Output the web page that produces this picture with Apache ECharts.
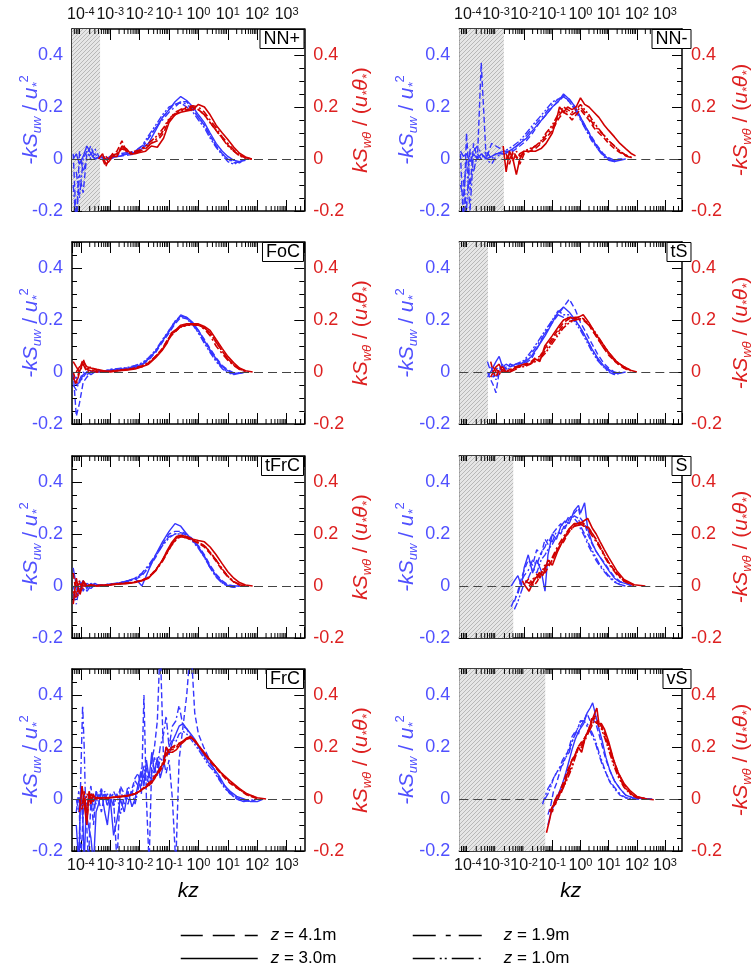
<!DOCTYPE html>
<html><head><meta charset="utf-8">
<script src="https://cdn.jsdelivr.net/npm/echarts@6/dist/echarts.min.js"></script>
<style>html,body{margin:0;padding:0;background:#fff}#c{width:755px;height:965px}</style>
</head><body><div id="c"></div>
<script>
// ---------------- DATA ----------------
// shared kz grids
const KZ_A = [5.5e-5, 7e-5, 9e-5, 1.2e-4, 1.6e-4, 2.2e-4, 3e-4, 4.5e-4, 7e-4, 1e-3, 2e-3, 4e-3, 7e-3, 1.2e-2, 2e-2, 3.5e-2, 6e-2, 0.1, 0.16, 0.25, 0.4, 0.65, 1, 1.6, 2.5, 4, 6.5, 10, 16, 25, 40, 65];
const KZ_B = [5.5e-5, 7e-5, 9e-5, 1.2e-4, 1.6e-4, 2.2e-4, 3.5e-4, 6e-4, 1e-3, 2e-3, 4e-3, 7e-3, 1.2e-2, 2e-2, 3.5e-2, 6e-2, 8.5e-2, 0.12, 0.18, 0.25, 0.4, 0.65, 1, 1.6, 2.5, 4, 6.5, 10, 16, 25, 40, 70];

// NN+
const NNp_uw_41 = [0.02, -0.25, -0.06, -0.13, 0.02, 0.05, 0.0, 0.01, 0.0, 0.01, 0.01, 0.015, 0.02, 0.04, 0.08, 0.12, 0.16, 0.19, 0.21, 0.22, 0.22, 0.19, 0.16, 0.13, 0.09, 0.05, 0.02, 0.0, -0.015, -0.01, 0.0, null];
const NNp_uw_30 = [0.0, 0.02, -0.02, 0.01, 0.05, 0.02, 0.0, 0.01, 0.0, 0.005, 0.01, 0.02, 0.025, 0.04, 0.06, 0.11, 0.16, 0.19, 0.22, 0.24, 0.225, 0.2, 0.17, 0.14, 0.1, 0.06, 0.03, 0.01, -0.005, -0.01, -0.005, null];
const NNp_uw_19 = [-0.1, -0.25, 0.03, -0.05, 0.0, 0.02, 0.04, 0.0, 0.01, 0.0, 0.015, 0.02, 0.03, 0.05, 0.08, 0.12, 0.15, 0.18, 0.2, 0.22, 0.21, 0.19, 0.16, 0.13, 0.09, 0.05, 0.02, 0.0, -0.01, -0.015, 0.0, null];
const NNp_uw_10 = [null, -0.05, -0.15, 0.0, 0.03, 0.0, 0.02, 0.0, 0.0, 0.01, 0.02, 0.025, 0.03, 0.05, 0.09, 0.13, 0.17, 0.2, 0.21, 0.215, 0.2, 0.18, 0.15, 0.12, 0.08, 0.045, 0.015, -0.01, -0.02, -0.01, 0.0, null];
const NNp_wt_kz = [4e-4, 5.5e-4, 7e-4, 9e-4, 1.2e-3, 1.7e-3, 2.5e-3, 3.5e-3, 5e-3, 7e-3, 1e-2, 1.6e-2, 2.5e-2, 4e-2, 6.5e-2, 0.1, 0.16, 0.25, 0.4, 0.65, 1, 1.6, 2.5, 4, 6.5, 10, 16, 25, 40, 65, 100];
const NNp_wt_41 = [null, 0.0, -0.03, 0.0, 0.02, 0.03, 0.07, 0.03, 0.02, 0.02, 0.03, 0.04, 0.06, 0.07, 0.1, 0.15, 0.17, 0.19, 0.195, 0.2, 0.19, 0.17, 0.14, 0.11, 0.08, 0.055, 0.03, 0.015, 0.005, 0.0, null];
const NNp_wt_30 = [0.0, 0.02, -0.02, -0.01, 0.01, 0.01, 0.05, 0.04, 0.02, 0.02, 0.025, 0.03, 0.05, 0.045, 0.08, 0.14, 0.17, 0.18, 0.185, 0.19, 0.21, 0.2, 0.17, 0.13, 0.1, 0.075, 0.045, 0.022, 0.008, 0.0, null];
const NNp_wt_19 = [null, 0.01, 0.0, -0.01, 0.015, 0.02, 0.05, 0.03, 0.02, 0.025, 0.03, 0.045, 0.06, 0.08, 0.11, 0.15, 0.18, 0.19, 0.2, 0.205, 0.2, 0.18, 0.15, 0.12, 0.085, 0.06, 0.035, 0.015, 0.005, 0.0, null];
const NNp_wt_10 = [null, null, 0.01, 0.0, 0.01, 0.02, 0.04, 0.03, 0.025, 0.03, 0.035, 0.05, 0.07, 0.09, 0.12, 0.155, 0.175, 0.185, 0.19, 0.195, 0.19, 0.17, 0.14, 0.11, 0.08, 0.05, 0.03, 0.012, 0.004, 0.0, null];

// NN-
const NNm_uw_41 = [0.02, -0.25, 0.1, -0.12, 0.06, 0.0, 0.37, 0.0, 0.06, 0.05, 0.03, 0.03, 0.05, 0.07, 0.1, 0.14, 0.17, 0.2, 0.22, 0.24, 0.23, 0.2, 0.16, 0.12, 0.085, 0.05, 0.02, 0.005, -0.005, 0.0, 0.0, null];
const NNm_uw_30 = [0.03, 0.01, 0.02, -0.01, 0.02, 0.0, 0.02, 0.0, 0.01, 0.02, 0.02, 0.04, 0.06, 0.08, 0.11, 0.14, 0.17, 0.2, 0.22, 0.25, 0.23, 0.2, 0.16, 0.12, 0.08, 0.045, 0.015, 0.0, -0.01, -0.005, 0.0, null];
const NNm_uw_19 = [-0.1, -0.15, 0.0, -0.2, 0.03, 0.05, 0.02, 0.0, -0.02, 0.01, 0.02, 0.035, 0.06, 0.09, 0.12, 0.15, 0.18, 0.21, 0.23, 0.245, 0.22, 0.19, 0.15, 0.11, 0.07, 0.04, 0.01, -0.005, -0.01, 0.0, null, null];
const NNm_uw_10 = [null, -0.08, -0.2, 0.04, -0.05, 0.02, 0.0, 0.03, 0.0, 0.02, 0.03, 0.05, 0.07, 0.1, 0.13, 0.16, 0.19, 0.22, 0.23, 0.24, 0.22, 0.19, 0.155, 0.11, 0.075, 0.04, 0.015, 0.0, -0.005, 0.0, null, null];
const NNm_wt_kz = [1.8e-3, 2.3e-3, 3e-3, 4e-3, 5.3e-3, 7e-3, 1e-2, 1.6e-2, 2.5e-2, 4e-2, 6e-2, 0.1, 0.14, 0.18, 0.25, 0.35, 0.5, 0.7, 1, 1.4, 2, 3, 4.5, 7, 10, 16, 25, 40, 65, 90];
const NNm_wt_41 = [null, 0.02, -0.02, 0.03, 0.01, -0.02, 0.02, 0.03, 0.04, 0.06, 0.08, 0.11, 0.14, 0.16, 0.18, 0.17, 0.15, 0.17, 0.19, 0.17, 0.15, 0.12, 0.1, 0.08, 0.06, 0.04, 0.025, 0.012, 0.005, null];
const NNm_wt_30 = [0.05, -0.05, 0.03, 0.0, -0.06, 0.0, 0.03, 0.03, 0.03, 0.04, 0.06, 0.1, 0.15, 0.2, 0.18, 0.2, 0.19, 0.2, 0.235, 0.21, 0.2, 0.18, 0.16, 0.13, 0.11, 0.085, 0.06, 0.04, 0.02, 0.012];
const NNm_wt_19 = [null, 0.0, 0.02, -0.01, 0.03, 0.01, 0.025, 0.035, 0.05, 0.065, 0.09, 0.12, 0.15, 0.17, 0.19, 0.18, 0.17, 0.18, 0.2, 0.18, 0.16, 0.13, 0.11, 0.09, 0.07, 0.05, 0.03, 0.015, 0.006, null];
const NNm_wt_10 = [null, null, 0.0, 0.02, 0.0, 0.02, 0.03, 0.04, 0.05, 0.07, 0.1, 0.13, 0.16, 0.18, 0.2, 0.19, 0.18, 0.19, 0.21, 0.19, 0.17, 0.14, 0.115, 0.09, 0.07, 0.05, 0.03, 0.015, 0.005, null];

// FoC
const FoC_uw_41 = [0.0, -0.17, -0.12, -0.04, -0.02, 0.0, 0.0, 0.005, 0.005, 0.005, 0.01, 0.012, 0.018, 0.028, 0.045, 0.075, 0.115, 0.15, 0.185, 0.21, 0.205, 0.185, 0.16, 0.125, 0.09, 0.055, 0.025, 0.008, -0.003, -0.005, 0.0, null];
const FoC_uw_30 = [-0.02, -0.05, -0.04, -0.01, 0.0, -0.01, 0.0, 0.0, 0.005, 0.008, 0.01, 0.015, 0.02, 0.03, 0.05, 0.08, 0.12, 0.155, 0.19, 0.22, 0.21, 0.19, 0.16, 0.12, 0.085, 0.05, 0.02, 0.005, -0.005, -0.005, 0.0, null];
const FoC_uw_19 = [-0.05, -0.07, -0.03, 0.0, -0.01, 0.0, 0.005, 0.0, 0.005, 0.01, 0.012, 0.016, 0.022, 0.032, 0.05, 0.08, 0.12, 0.16, 0.195, 0.215, 0.21, 0.185, 0.15, 0.115, 0.08, 0.045, 0.015, 0.0, -0.008, -0.003, null, null];
const FoC_uw_10 = [-0.03, -0.02, -0.04, -0.02, 0.0, 0.0, 0.0, 0.005, 0.005, 0.01, 0.014, 0.018, 0.025, 0.035, 0.055, 0.085, 0.125, 0.16, 0.195, 0.215, 0.205, 0.18, 0.15, 0.11, 0.075, 0.04, 0.012, -0.003, -0.01, -0.005, null, null];
const FoC_wt_41 = [0.0, -0.04, 0.01, 0.05, 0.01, 0.02, 0.005, 0.0, 0.002, 0.006, 0.01, 0.015, 0.022, 0.035, 0.06, 0.09, 0.12, 0.145, 0.16, 0.175, 0.18, 0.185, 0.18, 0.17, 0.15, 0.115, 0.08, 0.05, 0.028, 0.012, 0.004, null];
const FoC_wt_30 = [0.04, 0.02, 0.0, 0.04, 0.02, 0.015, 0.01, 0.005, 0.0, 0.005, 0.008, 0.012, 0.02, 0.03, 0.055, 0.085, 0.11, 0.15, 0.165, 0.18, 0.185, 0.185, 0.185, 0.175, 0.16, 0.125, 0.09, 0.06, 0.035, 0.015, 0.005, 0.0];
const FoC_wt_19 = [-0.02, -0.05, 0.0, 0.03, 0.0, 0.01, 0.0, 0.0, 0.003, 0.006, 0.01, 0.014, 0.02, 0.032, 0.058, 0.088, 0.115, 0.14, 0.16, 0.175, 0.18, 0.18, 0.18, 0.165, 0.14, 0.1, 0.07, 0.045, 0.025, 0.01, 0.003, null];
const FoC_wt_10 = [null, 0.0, 0.02, 0.03, 0.01, 0.005, 0.0, 0.002, 0.004, 0.007, 0.011, 0.016, 0.024, 0.036, 0.06, 0.09, 0.12, 0.145, 0.16, 0.172, 0.18, 0.183, 0.18, 0.17, 0.15, 0.115, 0.08, 0.05, 0.027, 0.011, 0.003, null];

// tS
const tS_uw_kz = [5e-4, 6.5e-4, 8e-4, 1e-3, 1.3e-3, 1.7e-3, 2.3e-3, 3.2e-3, 5e-3, 1e-2, 1.8e-2, 3.2e-2, 5.6e-2, 0.1, 0.16, 0.25, 0.4, 0.65, 1, 1.6, 2.5, 4, 6.5, 10, 16, 25, 40];
const tS_uw_41 = [0.0, -0.03, -0.05, -0.08, 0.0, 0.03, 0.01, 0.03, 0.02, 0.03, 0.05, 0.1, 0.15, 0.19, 0.22, 0.25, 0.28, 0.24, 0.19, 0.15, 0.11, 0.07, 0.035, 0.015, 0.0, -0.005, null];
const tS_uw_30 = [-0.02, 0.0, 0.02, 0.04, 0.06, 0.02, 0.03, 0.02, 0.03, 0.035, 0.06, 0.1, 0.14, 0.19, 0.23, 0.25, 0.23, 0.2, 0.17, 0.13, 0.09, 0.055, 0.025, 0.01, -0.005, -0.005, 0.0];
const tS_uw_19 = [0.04, 0.0, -0.02, 0.01, 0.02, 0.0, 0.02, 0.03, 0.02, 0.04, 0.07, 0.11, 0.15, 0.2, 0.22, 0.21, 0.21, 0.2, 0.17, 0.13, 0.09, 0.05, 0.02, 0.005, -0.01, 0.0, null];
const tS_uw_10 = [null, 0.02, 0.0, -0.03, 0.01, 0.03, 0.0, 0.02, 0.03, 0.045, 0.08, 0.12, 0.16, 0.2, 0.235, 0.22, 0.22, 0.19, 0.16, 0.12, 0.08, 0.045, 0.02, 0.0, -0.01, -0.005, null];
const tS_wt_kz = [6.5e-4, 8e-4, 1e-3, 1.3e-3, 1.7e-3, 2.3e-3, 3.2e-3, 5e-3, 7e-3, 1e-2, 1.6e-2, 2.5e-2, 3.6e-2, 5.4e-2, 0.1, 0.18, 0.25, 0.4, 0.65, 1, 1.25, 2, 3.5, 6, 10, 19, 35, 60, 100];
const tS_wt_41 = [0.04, 0.0, -0.02, 0.01, 0.02, 0.0, 0.01, 0.02, 0.02, 0.03, 0.035, 0.055, 0.06, 0.09, 0.13, 0.17, 0.19, 0.205, 0.21, 0.21, 0.205, 0.18, 0.14, 0.1, 0.065, 0.035, 0.015, 0.005, null];
const tS_wt_30 = [-0.02, 0.0, 0.02, 0.03, 0.0, 0.0, 0.0, 0.02, 0.025, 0.03, 0.03, 0.05, 0.04, 0.1, 0.14, 0.18, 0.2, 0.21, 0.205, 0.215, 0.22, 0.19, 0.145, 0.11, 0.075, 0.04, 0.02, 0.007, 0.0];
const tS_wt_19 = [null, 0.02, 0.0, -0.01, 0.01, 0.0, 0.005, 0.015, 0.02, 0.025, 0.03, 0.045, 0.05, 0.08, 0.12, 0.16, 0.18, 0.195, 0.2, 0.2, 0.2, 0.18, 0.14, 0.1, 0.07, 0.035, 0.015, 0.004, null];
const tS_wt_10 = [null, null, 0.01, 0.0, 0.0, 0.01, 0.0, 0.01, 0.02, 0.02, 0.03, 0.04, 0.05, 0.07, 0.11, 0.15, 0.17, 0.19, 0.2, 0.205, 0.205, 0.185, 0.15, 0.11, 0.075, 0.04, 0.02, 0.006, null];

// tFrC
const tFrC_uw_41 = [-0.05, -0.02, 0.02, -0.02, 0.01, 0.0, 0.01, 0.0, 0.005, 0.005, 0.01, 0.02, 0.025, 0.04, 0.07, 0.11, 0.16, 0.2, 0.21, 0.21, 0.2, 0.18, 0.155, 0.12, 0.08, 0.045, 0.02, 0.005, 0.0, 0.0, null, null];
const tFrC_uw_30 = [0.07, 0.0, -0.03, 0.02, -0.01, 0.01, 0.0, 0.005, 0.0, 0.005, 0.012, 0.02, 0.03, 0.0, 0.06, 0.12, 0.17, 0.21, 0.24, 0.23, 0.2, 0.175, 0.15, 0.115, 0.075, 0.04, 0.015, 0.002, 0.0, 0.0, null, null];
const tFrC_uw_19 = [-0.03, -0.07, 0.0, 0.02, -0.02, 0.0, 0.01, 0.0, 0.005, 0.008, 0.012, 0.02, 0.03, 0.05, 0.08, 0.12, 0.16, 0.19, 0.2, 0.205, 0.195, 0.175, 0.15, 0.11, 0.07, 0.035, 0.01, 0.0, -0.005, 0.0, null, null];
const tFrC_uw_10 = [0.0, -0.04, -0.01, 0.0, 0.01, -0.01, 0.005, 0.0, 0.005, 0.008, 0.01, 0.018, 0.028, 0.045, 0.075, 0.115, 0.155, 0.185, 0.2, 0.2, 0.19, 0.17, 0.145, 0.11, 0.07, 0.035, 0.012, 0.0, -0.005, 0.0, null, null];
const tFrC_wt_41 = [0.05, -0.03, -0.04, 0.01, 0.005, 0.0, 0.002, 0.004, 0.006, 0.009, 0.012, 0.016, 0.022, 0.033, 0.062, 0.1, 0.13, 0.16, 0.185, 0.19, 0.185, 0.175, 0.165, 0.15, 0.125, 0.095, 0.06, 0.035, 0.015, 0.005, 0.0, null];
const tFrC_wt_30 = [-0.07, 0.03, -0.03, 0.02, 0.0, 0.005, 0.0, 0.003, 0.005, 0.008, 0.01, 0.014, 0.02, 0.03, 0.06, 0.1, 0.135, 0.165, 0.19, 0.195, 0.19, 0.18, 0.175, 0.17, 0.15, 0.12, 0.085, 0.055, 0.03, 0.013, 0.004, 0.0];
const tFrC_wt_19 = [-0.02, -0.05, 0.02, 0.0, 0.0, 0.005, 0.0, 0.004, 0.005, 0.008, 0.011, 0.015, 0.021, 0.032, 0.058, 0.095, 0.125, 0.155, 0.18, 0.19, 0.185, 0.175, 0.165, 0.155, 0.13, 0.1, 0.065, 0.038, 0.017, 0.006, 0.001, null];
const tFrC_wt_10 = [null, 0.0, 0.01, -0.01, 0.005, 0.0, 0.002, 0.003, 0.005, 0.008, 0.011, 0.015, 0.022, 0.034, 0.06, 0.098, 0.128, 0.158, 0.182, 0.192, 0.188, 0.178, 0.168, 0.155, 0.13, 0.1, 0.065, 0.037, 0.016, 0.005, 0.0, null];

// S
const S_uw_kz = [3.5e-3, 4.5e-3, 6e-3, 8e-3, 1e-2, 1.4e-2, 2e-2, 2.8e-2, 4e-2, 5.5e-2, 7e-2, 0.1, 0.14, 0.2, 0.28, 0.4, 0.6, 0.85, 1, 1.4, 1.8, 2.5, 3.5, 5, 7, 10, 16, 25, 40, 65, 100];
const S_uw_41 = [null, -0.06, -0.02, 0.03, 0.06, 0.1, 0.08, 0.14, 0.12, 0.18, 0.16, 0.2, 0.22, 0.24, 0.22, 0.26, 0.28, 0.3, 0.26, 0.24, 0.2, 0.165, 0.135, 0.11, 0.09, 0.065, 0.035, 0.018, 0.01, 0.005, null];
const S_uw_30 = [0.0, 0.02, 0.04, 0.0, 0.07, 0.12, 0.05, 0.1, 0.06, -0.02, 0.12, 0.2, 0.18, 0.23, 0.25, 0.24, 0.29, 0.31, 0.28, 0.32, 0.22, 0.17, 0.135, 0.11, 0.085, 0.06, 0.03, 0.015, 0.01, 0.0, null];
const S_uw_19 = [-0.08, -0.05, -0.03, 0.02, 0.04, 0.06, 0.1, 0.08, 0.13, 0.15, 0.18, 0.17, 0.21, 0.2, 0.24, 0.27, 0.26, 0.24, 0.22, 0.19, 0.16, 0.13, 0.1, 0.075, 0.055, 0.035, 0.015, 0.005, 0.0, null, null];
const S_uw_10 = [null, -0.09, -0.06, -0.02, 0.01, 0.03, 0.07, 0.05, 0.1, 0.12, 0.14, 0.16, 0.19, 0.21, 0.23, 0.25, 0.27, 0.26, 0.23, 0.2, 0.17, 0.14, 0.11, 0.08, 0.06, 0.04, 0.018, 0.006, 0.0, null, null];
const S_wt_kz = [8.7e-3, 1.1e-2, 1.5e-2, 2.2e-2, 3e-2, 3.6e-2, 4.5e-2, 5.4e-2, 7e-2, 0.1, 0.15, 0.25, 0.4, 0.6, 0.95, 1.3, 1.8, 2.7, 3.6, 5, 7, 10, 19, 35, 80, 200];
const S_wt_41 = [null, 0.01, 0.03, 0.0, 0.02, 0.04, 0.06, 0.05, 0.07, 0.1, 0.14, 0.17, 0.21, 0.23, 0.24, 0.23, 0.23, 0.2, 0.18, 0.15, 0.12, 0.09, 0.05, 0.02, 0.003, null];
const S_wt_30 = [0.02, 0.0, -0.02, 0.02, 0.04, 0.05, 0.04, 0.06, 0.1, 0.08, 0.13, 0.18, 0.22, 0.24, 0.24, 0.25, 0.26, 0.22, 0.2, 0.17, 0.14, 0.11, 0.06, 0.025, 0.005, 0.0];
const S_wt_19 = [null, 0.02, 0.01, 0.03, 0.03, 0.06, 0.05, 0.07, 0.09, 0.11, 0.15, 0.19, 0.22, 0.235, 0.245, 0.24, 0.22, 0.19, 0.17, 0.145, 0.115, 0.085, 0.045, 0.018, 0.002, null];
const S_wt_10 = [null, null, 0.0, 0.02, 0.05, 0.03, 0.06, 0.08, 0.08, 0.1, 0.14, 0.18, 0.21, 0.23, 0.235, 0.235, 0.225, 0.2, 0.175, 0.15, 0.12, 0.09, 0.05, 0.02, 0.004, null];

// FrC
const FrC_uw_kz = [7e-5, 8.5e-5, 1e-4, 1.15e-4, 1.3e-4, 1.5e-4, 1.8e-4, 2.2e-4, 2.7e-4, 3.3e-4, 4e-4, 5e-4, 6.5e-4, 8e-4, 1e-3, 1.3e-3, 1.7e-3, 2.2e-3, 3e-3, 4e-3, 5.5e-3, 7e-3, 9e-3, 1.15e-2, 1.4e-2, 1.7e-2, 2.1e-2, 2.6e-2, 3.2e-2, 4e-2, 5e-2, 6.5e-2, 8e-2, 0.1, 0.13, 0.17, 0.22, 0.3, 0.4, 0.55, 0.75, 1, 1.5, 2.2, 3.2, 5, 8, 12, 20, 35, 60, 100, 160];
const FrC_uw_41 = [-0.05, 0.03, -0.25, -0.1, 0.02, -0.03, -0.25, 0.0, -0.1, 0.03, 0.0, -0.05, 0.02, -0.03, 0.02, 0.0, -0.25, 0.05, 0.02, -0.02, 0.04, 0.08, 0.1, 0.02, 0.4, 0.0, -0.25, 0.15, 0.2, 0.3, 0.6, 0.15, 0.1, 0.15, 0.0, -0.25, 0.15, 0.28, 0.4, 0.6, 0.33, 0.25, 0.2, 0.16, 0.12, 0.08, 0.05, 0.025, 0.005, -0.005, -0.01, 0.0, null];
const FrC_uw_30 = [-0.1, -0.25, 0.05, -0.05, -0.25, -0.05, -0.1, -0.15, -0.25, -0.05, -0.02, 0.03, -0.05, -0.1, 0.0, -0.14, -0.08, 0.0, -0.05, 0.03, -0.03, 0.0, 0.06, 0.1, 0.05, 0.15, 0.08, 0.18, 0.1, 0.16, 0.08, 0.13, 0.2, 0.17, 0.22, 0.25, 0.28, 0.29, 0.27, 0.25, 0.23, 0.2, 0.17, 0.14, 0.12, 0.09, 0.05, 0.03, 0.01, 0.0, -0.01, -0.01, 0.0];
const FrC_uw_19 = [null, -0.25, 0.1, 0.36, 0.2, -0.1, 0.0, 0.05, -0.05, 0.03, 0.01, 0.04, 0.0, 0.02, -0.02, 0.03, 0.0, 0.04, -0.02, 0.05, 0.02, 0.07, 0.05, 0.12, 0.08, 0.12, 0.05, 0.1, 0.16, 0.12, 0.2, 0.25, 0.32, 0.2, 0.28, 0.3, 0.36, 0.28, 0.27, 0.24, 0.22, 0.2, 0.18, 0.15, 0.12, 0.08, 0.045, 0.02, 0.0, -0.01, 0.0, null, null];
const FrC_uw_10 = [0.0, -0.05, 0.03, -0.08, 0.0, -0.03, 0.02, -0.04, 0.01, -0.02, 0.02, 0.0, 0.03, -0.01, 0.01, -0.03, 0.02, -0.06, 0.01, 0.0, 0.03, -0.02, 0.04, 0.08, 0.13, 0.05, 0.1, 0.06, 0.12, 0.09, 0.16, 0.14, 0.18, 0.2, 0.23, 0.22, 0.25, 0.26, 0.25, 0.23, 0.21, 0.19, 0.16, 0.13, 0.11, 0.075, 0.04, 0.02, 0.0, -0.01, -0.005, 0.0, null];
const FrC_wt_kz = [9e-5, 1.1e-4, 1.3e-4, 1.6e-4, 1.9e-4, 2.2e-4, 2.6e-4, 3.2e-4, 4.5e-4, 1e-3, 2e-3, 4e-3, 7e-3, 1e-2, 1.6e-2, 2.5e-2, 3.3e-2, 4.5e-2, 6.5e-2, 8e-2, 0.1, 0.13, 0.18, 0.28, 0.4, 0.55, 0.78, 1.1, 1.8, 3.5, 6, 12, 25, 45, 100, 200];
const FrC_wt_41 = [0.0, -0.04, 0.03, -0.08, 0.0, 0.02, -0.01, 0.01, 0.0, 0.005, 0.01, 0.014, 0.02, 0.03, 0.05, 0.07, 0.09, 0.1, 0.13, 0.16, 0.19, 0.2, 0.21, 0.22, 0.23, 0.235, 0.225, 0.2, 0.165, 0.125, 0.095, 0.06, 0.035, 0.015, 0.002, null];
const FrC_wt_30 = [-0.05, 0.05, -0.02, -0.1, 0.03, -0.02, 0.02, 0.0, 0.005, 0.005, 0.008, 0.012, 0.02, 0.03, 0.045, 0.06, 0.08, 0.11, 0.14, 0.2, 0.18, 0.18, 0.19, 0.22, 0.235, 0.24, 0.22, 0.2, 0.17, 0.13, 0.1, 0.07, 0.04, 0.02, 0.005, 0.0];
const FrC_wt_19 = [null, -0.02, 0.01, -0.05, 0.02, 0.0, 0.01, 0.0, 0.004, 0.006, 0.009, 0.013, 0.02, 0.028, 0.045, 0.065, 0.085, 0.105, 0.14, 0.17, 0.19, 0.19, 0.2, 0.215, 0.23, 0.24, 0.22, 0.2, 0.165, 0.13, 0.1, 0.065, 0.038, 0.018, 0.004, null];
const FrC_wt_10 = [null, null, -0.03, 0.02, 0.0, -0.01, 0.01, 0.005, 0.005, 0.006, 0.009, 0.013, 0.02, 0.03, 0.047, 0.066, 0.088, 0.11, 0.145, 0.175, 0.185, 0.195, 0.205, 0.22, 0.232, 0.238, 0.222, 0.2, 0.168, 0.13, 0.1, 0.066, 0.037, 0.016, 0.003, null];

// vS
const vS_uw_kz = [4.5e-2, 5.5e-2, 7e-2, 9e-2, 0.11, 0.14, 0.18, 0.23, 0.3, 0.4, 0.5, 0.65, 0.85, 1, 1.3, 1.7, 2.2, 2.7, 3.5, 4.5, 6, 8, 11, 16, 25, 40, 70, 120, 200, 350];
const vS_uw_41 = [null, null, -0.06, -0.02, 0.03, 0.06, 0.1, 0.14, 0.16, 0.2, 0.24, 0.26, 0.25, 0.28, 0.3, 0.33, 0.3, 0.31, 0.29, 0.25, 0.2, 0.15, 0.11, 0.07, 0.04, 0.015, 0.005, 0.003, 0.0, null];
const vS_uw_30 = [null, null, -0.1, -0.05, -0.03, 0.0, 0.03, 0.06, 0.1, 0.15, 0.19, 0.23, 0.26, 0.26, 0.29, 0.33, 0.35, 0.37, 0.32, 0.27, 0.22, 0.16, 0.11, 0.07, 0.04, 0.015, 0.005, 0.004, 0.002, 0.0];
const vS_uw_19 = [-0.02, 0.01, 0.04, 0.06, 0.08, 0.1, 0.12, 0.15, 0.17, 0.19, 0.22, 0.25, 0.28, 0.3, 0.3, 0.28, 0.26, 0.24, 0.21, 0.17, 0.13, 0.1, 0.07, 0.045, 0.02, 0.005, 0.0, 0.0, null, null];
const vS_uw_10 = [null, 0.0, 0.02, 0.05, 0.08, 0.1, 0.12, 0.13, 0.16, 0.18, 0.22, 0.25, 0.28, 0.3, 0.3, 0.29, 0.27, 0.25, 0.22, 0.18, 0.14, 0.1, 0.065, 0.04, 0.015, 0.005, 0.0, 0.0, null, null];
const vS_wt_kz = [6.2e-2, 8e-2, 0.1, 0.13, 0.16, 0.2, 0.26, 0.35, 0.5, 0.65, 0.82, 1.1, 1.5, 2, 2.5, 3.2, 3.8, 4.5, 5.5, 7, 10, 15, 22, 35, 60, 100, 220, 400];
const vS_wt_41 = [null, -0.05, -0.03, 0.0, 0.01, 0.04, 0.07, 0.11, 0.15, 0.17, 0.2, 0.22, 0.24, 0.27, 0.31, 0.3, 0.29, 0.3, 0.28, 0.26, 0.21, 0.15, 0.1, 0.055, 0.022, 0.008, 0.0, null];
const vS_wt_30 = [-0.13, -0.08, -0.03, -0.01, 0.0, 0.03, 0.05, 0.1, 0.15, 0.17, 0.2, 0.18, 0.24, 0.27, 0.3, 0.33, 0.35, 0.29, 0.29, 0.27, 0.22, 0.15, 0.1, 0.06, 0.03, 0.01, 0.0, -0.003];
const vS_wt_19 = [null, -0.04, -0.05, 0.0, 0.02, 0.03, 0.06, 0.09, 0.13, 0.17, 0.19, 0.2, 0.23, 0.26, 0.29, 0.32, 0.31, 0.29, 0.28, 0.25, 0.2, 0.14, 0.09, 0.05, 0.02, 0.006, 0.0, null];
const vS_wt_10 = [null, null, -0.03, -0.02, 0.01, 0.02, 0.05, 0.08, 0.12, 0.16, 0.19, 0.21, 0.24, 0.26, 0.28, 0.31, 0.3, 0.28, 0.27, 0.24, 0.19, 0.13, 0.085, 0.045, 0.018, 0.005, 0.0, null];

// axis ranges and tick layout
const KZ_MIN = 5e-5, KZ_MAX = 4e3;
const Y_MIN = -0.2, Y_MAX = 0.5, Y_STEP = 0.2;
const MINOR_MULT = [2, 3, 4, 5, 6, 7, 8, 9];
const DECADES = [-5, -4, -3, -2, -1, 0, 1, 2, 3];
const HEIGHTS = ['z = 4.1m', 'z = 3.0m', 'z = 1.9m', 'z = 1.0m'];
// grey (unresolved) kz range upper limits
const HATCH_END = {'NN+': 4.5e-4, 'NN-': 1.9e-3, 'tS': 5.2e-4, 'S': 4.1e-3, 'vS': 5.6e-2};

// ---------------- BUILD ----------------
const PANELS = [
  {label: 'NN+', row: 0, col: 0, uwKz: KZ_A, uw: [NNp_uw_41, NNp_uw_30, NNp_uw_19, NNp_uw_10], wtKz: NNp_wt_kz, wt: [NNp_wt_41, NNp_wt_30, NNp_wt_19, NNp_wt_10]},
  {label: 'NN-', row: 0, col: 1, uwKz: KZ_A, uw: [NNm_uw_41, NNm_uw_30, NNm_uw_19, NNm_uw_10], wtKz: NNm_wt_kz, wt: [NNm_wt_41, NNm_wt_30, NNm_wt_19, NNm_wt_10]},
  {label: 'FoC', row: 1, col: 0, uwKz: KZ_A, uw: [FoC_uw_41, FoC_uw_30, FoC_uw_19, FoC_uw_10], wtKz: KZ_B, wt: [FoC_wt_41, FoC_wt_30, FoC_wt_19, FoC_wt_10]},
  {label: 'tS', row: 1, col: 1, uwKz: tS_uw_kz, uw: [tS_uw_41, tS_uw_30, tS_uw_19, tS_uw_10], wtKz: tS_wt_kz, wt: [tS_wt_41, tS_wt_30, tS_wt_19, tS_wt_10]},
  {label: 'tFrC', row: 2, col: 0, uwKz: KZ_A, uw: [tFrC_uw_41, tFrC_uw_30, tFrC_uw_19, tFrC_uw_10], wtKz: KZ_B, wt: [tFrC_wt_41, tFrC_wt_30, tFrC_wt_19, tFrC_wt_10]},
  {label: 'S', row: 2, col: 1, uwKz: S_uw_kz, uw: [S_uw_41, S_uw_30, S_uw_19, S_uw_10], wtKz: S_wt_kz, wt: [S_wt_41, S_wt_30, S_wt_19, S_wt_10]},
  {label: 'FrC', row: 3, col: 0, uwKz: FrC_uw_kz, uw: [FrC_uw_41, FrC_uw_30, FrC_uw_19, FrC_uw_10], wtKz: FrC_wt_kz, wt: [FrC_wt_41, FrC_wt_30, FrC_wt_19, FrC_wt_10]},
  {label: 'vS', row: 3, col: 1, uwKz: vS_uw_kz, uw: [vS_uw_41, vS_uw_30, vS_uw_19, vS_uw_10], wtKz: vS_wt_kz, wt: [vS_wt_41, vS_wt_30, vS_wt_19, vS_wt_10]}
];

const FONT = '"Liberation Sans", Arial, Helvetica, sans-serif';
const BLUE_LINE = '#3535ff', BLUE_TXT = '#5050ff';
const RED_LINE = '#d00000', RED_TXT = '#dd2020';
const COL_LEFT = [72, 459.3];
const ROW_TOP = [29, 242, 456, 669];
const GW = 232.3, GH = 182;
const DATA_DASH = [[6, 3], 'solid', [7, 3, 2, 3], [7, 2, 2, 2, 2, 2]];
const LEG_DASH = [[22, 10], 'solid', [23, 10, 5, 8], [22, 5, 2, 3, 2, 5]];

function makeHatch() {
  const c = document.createElement('canvas');
  c.width = 4; c.height = 4;
  const g = c.getContext('2d');
  g.fillStyle = '#e6e6e6'; g.fillRect(0, 0, 4, 4);
  g.strokeStyle = '#b8b8b8'; g.lineWidth = 1;
  g.beginPath();
  g.moveTo(0, 4); g.lineTo(4, 0);
  g.moveTo(-1, 1); g.lineTo(1, -1);
  g.moveTo(3, 5); g.lineTo(5, 3);
  g.stroke();
  return c;
}
const HATCH = makeHatch();

const MINOR_KZ = [];
DECADES.forEach(d => MINOR_MULT.forEach(m => {
  const v = m * Math.pow(10, d);
  if (v > KZ_MIN * 1.001 && v < KZ_MAX * 0.999) MINOR_KZ.push([v, 0]);
}));

function pairs(xs, ys) {
  return xs.map((x, j) => [x, ys[j]]).filter(d => d[1] !== null && d[1] !== undefined);
}

const supRich = {
  b: {fontSize: 16, lineHeight: 17, fontFamily: FONT, color: '#111', verticalAlign: 'bottom'},
  s: {fontSize: 11, lineHeight: 11, fontFamily: FONT, color: '#111', verticalAlign: 'top'}
};
function nameRich(color) {
  return {
    n: {fontSize: 21, lineHeight: 26, fontStyle: 'italic', fontFamily: FONT, color: color},
    r: {fontSize: 21, lineHeight: 26, fontFamily: FONT, color: color},
    s: {fontSize: 13, lineHeight: 13, fontStyle: 'italic', fontFamily: FONT, color: color, verticalAlign: 'bottom'},
    p: {fontSize: 13, lineHeight: 13, fontFamily: FONT, color: color, verticalAlign: 'top'}
  };
}

const grids = [], xAxes = [], yAxes = [], titles = [], series = [];
PANELS.forEach((p, i) => {
  grids.push({left: COL_LEFT[p.col], top: ROW_TOP[p.row], width: GW, height: GH, containLabel: false});
  ['bottom', 'top'].forEach(pos => {
    const showLab = (pos === 'top' && p.row === 0) || (pos === 'bottom' && p.row === 3);
    xAxes.push({
      type: 'log', logBase: 10, gridIndex: i, position: pos, min: KZ_MIN, max: KZ_MAX,
      axisLine: {show: true, onZero: false, lineStyle: {color: '#000', width: 1.5}},
      axisTick: {show: true, inside: true, length: 11, lineStyle: {color: '#000', width: 1}},
      minorTick: {show: false}, splitLine: {show: false},
      axisLabel: {show: showLab, margin: 6, showMinLabel: false, showMaxLabel: false,
        formatter: v => '{b|10}{s|' + Math.round(Math.log10(v)) + '}', rich: supRich},
      name: (pos === 'bottom' && p.row === 3) ? 'kz' : '',
      nameLocation: 'middle', nameGap: 30, nameMoveOverlap: false,
      nameTextStyle: {fontSize: 21, fontStyle: 'italic', color: '#000', fontFamily: FONT}
    });
  });
  // tick/label axes (index 4i, 4i+1)
  ['left', 'right'].forEach(pos => {
    const color = pos === 'left' ? BLUE_TXT : RED_TXT;
    yAxes.push({
      type: 'value', gridIndex: i, position: pos, min: Y_MIN, max: Y_MAX, interval: Y_STEP,
      axisLine: {show: true, onZero: false, lineStyle: {color: '#000', width: 1.5}},
      axisTick: {show: true, inside: true, length: 10, lineStyle: {color: '#000', width: 1}},
      minorTick: {show: true, splitNumber: 4, length: 5, lineStyle: {color: '#000', width: 1}},
      splitLine: {show: false},
      axisLabel: {color: color, fontSize: 18, fontFamily: FONT, margin: 9, showMaxLabel: false}
    });
  });
  // title-only axes (index 4i+2, 4i+3)
  ['left', 'right'].forEach(pos => {
    const isLeft = pos === 'left';
    const color = isLeft ? BLUE_TXT : RED_TXT;
    const nm = isLeft
      ? '{n|-kS}{s|uw}{r| / }{n|u}{s|*}{p|2}'
      : '{n|' + (p.col === 1 ? '-' : '') + 'kS}{s|wθ}{r| / (}{n|u}{s|*}{n|θ}{s|*}{r|)}';
    yAxes.push({
      type: 'value', gridIndex: i, position: pos, min: Y_MIN, max: Y_MAX,
      axisLine: {show: false, onZero: false}, axisTick: {show: false}, axisLabel: {show: false},
      splitLine: {show: false},
      name: nm, nameLocation: 'middle', nameRotate: 90, nameMoveOverlap: false,
      nameGap: isLeft ? (p.col === 0 ? 28 : 39) : (p.col === 0 ? 44 : 46),
      nameTextStyle: {rich: nameRich(color)}
    });
  });
  titles.push({
    text: p.label, right: p.col === 0 ? 451 : 63.5, top: ROW_TOP[p.row],
    padding: [1, 4, 0, 4], backgroundColor: '#fff', borderColor: '#000', borderWidth: 1,
    textStyle: {fontSize: 18, lineHeight: 19, fontWeight: 'normal', color: '#000', fontFamily: FONT}
  });
  const hatchEnd = HATCH_END[p.label];
  series.push({
    type: 'custom', xAxisIndex: 2 * i, yAxisIndex: 4 * i, z: 1, silent: true,
    encode: {x: 0, y: 1}, data: MINOR_KZ,
    renderItem: (params, api) => {
      const x = api.value(0);
      const pb = api.coord([x, Y_MIN]);
      const pt = api.coord([x, Y_MAX]);
      return {type: 'group', children: [
        {type: 'line', shape: {x1: pb[0], y1: pb[1], x2: pb[0], y2: pb[1] - 5}, style: {stroke: '#000', lineWidth: 1}},
        {type: 'line', shape: {x1: pt[0], y1: pt[1], x2: pt[0], y2: pt[1] + 5}, style: {stroke: '#000', lineWidth: 1}}
      ]};
    },
    markArea: hatchEnd ? {silent: true, itemStyle: {color: {image: HATCH, repeat: 'repeat'}},
      data: [[{xAxis: KZ_MIN}, {xAxis: hatchEnd}]]} : undefined,
    markLine: {silent: true, symbol: ['none', 'none'], label: {show: false},
      lineStyle: {color: '#444', type: [9, 5], width: 1.2}, data: [{yAxis: 0}]}
  });
  p.uw.forEach((ys, k) => series.push({
    type: 'line', xAxisIndex: 2 * i, yAxisIndex: 4 * i, z: 2, silent: true,
    symbol: 'none', showSymbol: false,
    lineStyle: {color: BLUE_LINE, width: 1.4, type: DATA_DASH[k]},
    data: pairs(p.uwKz, ys)
  }));
  p.wt.forEach((ys, k) => series.push({
    type: 'line', xAxisIndex: 2 * i, yAxisIndex: 4 * i + 1, z: 3, silent: true,
    symbol: 'none', showSymbol: false,
    lineStyle: {color: RED_LINE, width: 1.6, type: DATA_DASH[k]},
    data: pairs(p.wtKz, ys)
  }));
});
// legend entries (black line styles)
HEIGHTS.forEach((h, k) => series.push({
  type: 'line', name: h, xAxisIndex: 0, yAxisIndex: 0, data: [], symbol: 'none',
  lineStyle: {color: '#000', width: 1.5, type: LEG_DASH[k]}, itemStyle: {color: '#000', opacity: 0}
}));
function legendCfg(left, width, names, pad) {
  return {
    left: left, top: 927, height: 60, orient: 'vertical', padding: 0,
    itemWidth: width, itemHeight: 14, itemGap: 6,
    selectedMode: false,
    itemStyle: {opacity: 0},
    data: names.map(n => ({name: n, itemStyle: {opacity: 0},
      lineStyle: {color: '#000', width: 1.5, type: LEG_DASH[HEIGHTS.indexOf(n)]}})),
    formatter: n => '{i|z}{t|' + n.slice(1) + '}',
    textStyle: {lineHeight: 14, rich: {
      i: {fontSize: 17, lineHeight: 14, fontStyle: 'italic', fontFamily: FONT, color: '#000', padding: [0, 0, 0, pad]},
      t: {fontSize: 17, lineHeight: 14, fontFamily: FONT, color: '#000'}
    }}
  };
}

const chart = echarts.init(document.getElementById('c'), null, {renderer: 'canvas'});
chart.setOption({
  animation: false,
  backgroundColor: '#fff',
  title: titles,
  grid: grids,
  xAxis: xAxes,
  yAxis: yAxes,
  legend: [legendCfg(180, 77, [HEIGHTS[0], HEIGHTS[1]], 8), legendCfg(412, 71, [HEIGHTS[2], HEIGHTS[3]], 15)],
  series: series
});
</script>
</body></html>
